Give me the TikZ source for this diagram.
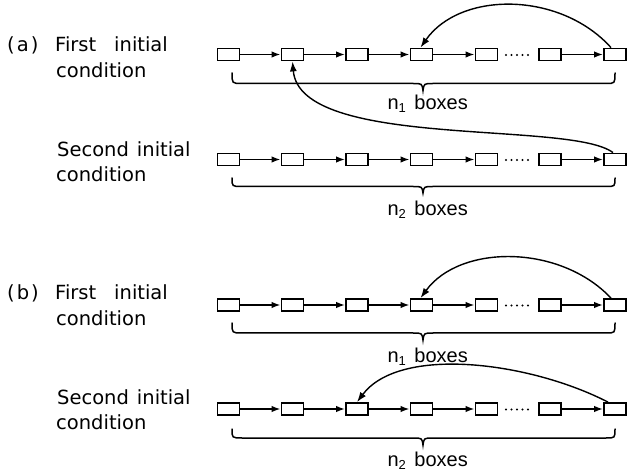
\documentclass[tikz,border=0pt]{standalone}
\usepackage{fontspec}
\setmainfont{DejaVu Sans}
\newfontfamily\labfont{Liberation Sans}
\usetikzlibrary{arrows.meta}
\tikzset{
  bx/.style={draw, line width=1.8pt, minimum width=22pt, minimum height=12pt, inner sep=0pt},
  conn/.style={line width=1.6pt, -{Latex[length=9pt,width=6.5pt]}},
  curv/.style={line width=1.4pt, -{Latex[length=10pt,width=7pt]}},
  brc/.style={line width=1.5pt, line cap=round},
  lefttxt/.style={font=\fontsize{19.5}{19.5}\selectfont, anchor=base west, inner sep=0pt},
  labtxt/.style={font=\labfont\fontsize{20}{20}\selectfont, anchor=base east, inner sep=0pt},
}
\newcommand\myrow[2]{%
  \foreach \i/\x in {1/228.5,2/292.5,3/357,4/421.5,5/486.5,6/550,7/615}{\node[bx] (#1\i) at (\x,#2) {};}
  \foreach \i/\j in {1/2,2/3,3/4,4/5,6/7}{\draw[conn] (#1\i) -- (#1\j);}
  \foreach \k in {0,...,4}{\fill (506+5.5*\k,#2+0.5) circle (1.2pt);}
}
% #1 y of hook tops, #2 y of line, #3 y of cusp
\newcommand\mybrace[3]{%
  \draw[brc] (232,#1) .. controls (232,#2) .. (242,#2) -- (413,#2)
     .. controls (422,#2) .. (423,#3) .. controls (424,#2) .. (433,#2)
     -- (606,#2) .. controls (615,#2) .. (615,#1);
}
\newcommand\subdig[1]{\raisebox{-3pt}{\fontsize{13}{13}\selectfont #1}}
\begin{document}
\begin{tikzpicture}[x=1pt,y=-1pt]
\useasboundingbox (0,0) rectangle (627,473);
% rows
\myrow{a}{54.5}
\myrow{c}{159.5}
\myrow{p}{305}
\myrow{q}{409}
% braces
\mybrace{73}{83.5}{90.5}
\mybrace{178}{186.5}{193}
\mybrace{323}{333}{340}
\mybrace{429}{438}{445}
% labels under braces
\node[labtxt] (la) at (468,110) {n\subdig{1}\hspace{3pt} boxes};
\node[labtxt] (lc) at (468,216) {n\subdig{2}\hspace{3pt} boxes};
\node[labtxt] (lp) at (468,362) {n\subdig{1}\hspace{3pt} boxes};
\node[labtxt] (lq) at (468,466) {n\subdig{2}\hspace{3pt} boxes};
% left texts
\node[lefttxt] (ta) at (7,52) {(\kern2pt a\kern2pt)};
\node[lefttxt] (ta1) at (55,52) {First\hspace{18pt}initial};
\node[lefttxt] (ta2) at (56,78) {condition};
\node[lefttxt] (tc1) at (57,157) {Second\hspace{8pt}initial};
\node[lefttxt] (tc2) at (56,182) {condition};
\node[lefttxt] (tb) at (7,300) {(\kern2pt b\kern2pt)};
\node[lefttxt] (tp1) at (55,300) {First\hspace{18pt}initial};
\node[lefttxt] (tp2) at (56,326) {condition};
\node[lefttxt] (tq1) at (57,404) {Second\hspace{8pt}initial};
\node[lefttxt] (tq2) at (56,429) {condition};
% curved arrows
\draw[curv] ([xshift=-4pt]a7.north) .. controls (560,-9) and (460,-9) .. ([xshift=-1pt]a4.north);
\draw[curv] ([xshift=-2pt]c7.north) .. controls (570,120) and (300,150) .. (a2.south);
\draw[curv] ([xshift=-4pt]p7.north) .. controls (560,244) and (460,244) .. ([xshift=-1pt]p4.north);
\draw[curv] ([xshift=-7pt]q7.north) .. controls (530,362) and (400,345) .. (q3.north);
\end{tikzpicture}
\end{document}
